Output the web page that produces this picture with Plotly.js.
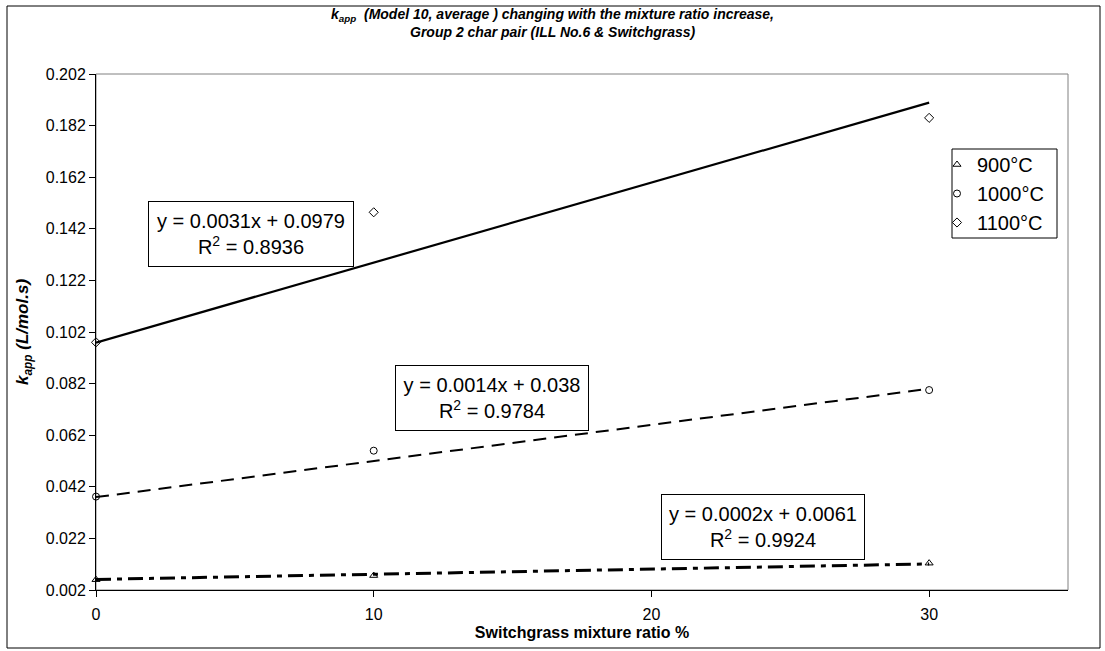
<!DOCTYPE html>
<html>
<head>
<meta charset="utf-8">
<script src="https://cdn.plot.ly/plotly-3.0.1.min.js"></script>
<style>html,body{margin:0;padding:0;background:#fff;}</style>
</head>
<body>
<div id="chart" style="width:1105px;height:651px;"></div>
<script>
// Data
const mixtureRatio = [0, 10, 30];
const k900 = [0.0060, 0.0076, 0.0124];
const k1000 = [0.0382, 0.0560, 0.0795];
const k1100 = [0.0980, 0.1484, 0.1850];
const seriesNames = ['900°C', '1000°C', '1100°C'];
const trendSlopes = [0.0002, 0.0014, 0.0031];
const trendIntercepts = [0.0061, 0.038, 0.0979];
const trendLabels = [
  'y = 0.0002x + 0.0061<br>R<sup>2</sup> = 0.9924',
  'y = 0.0014x + 0.038<br>R<sup>2</sup> = 0.9784',
  'y = 0.0031x + 0.0979<br>R<sup>2</sup> = 0.8936'
];
const titleLines = [
  '<b><i>k<sub>app</sub>  (Model 10, average ) changing with the mixture ratio increase,</i></b>',
  '<b><i>Group 2 char pair (ILL No.6 & Switchgrass)</i></b>'
];
const xTicks = [0, 10, 20, 30];
const yTicks = [0.002, 0.022, 0.042, 0.062, 0.082, 0.102, 0.122, 0.142, 0.162, 0.182, 0.202];

const FONT = 'Liberation Sans, Arial, sans-serif';
const symbols = ['triangle-up-open', 'circle-open', 'diamond-open'];
const dashes = ['15px,6px,5px,6px', '13px,8px', 'solid'];
const widths = [3, 2, 2.2];
const seriesData = [k900, k1000, k1100];

const traces = [];
for (let i = 0; i < 3; i++) {
  const xs = [mixtureRatio[0], mixtureRatio[mixtureRatio.length - 1]];
  traces.push({
    x: xs,
    y: xs.map(v => trendSlopes[i] * v + trendIntercepts[i]),
    mode: 'lines',
    line: {color: '#000', width: widths[i], dash: dashes[i]},
    showlegend: false,
    hoverinfo: 'skip'
  });
}
for (let i = 0; i < 3; i++) {
  traces.push({
    x: mixtureRatio,
    y: seriesData[i],
    name: seriesNames[i],
    mode: 'markers',
    marker: {symbol: symbols[i], size: 7, color: '#000', line: {color: '#000', width: 1}},
    cliponaxis: false
  });
}

const L = 96, R = 1068, T = 74, B = 590;
const px2x = px => (px - L) / (R - L);
const px2y = py => (B - py) / (B - T);

function eqBox(cx, cy, w, txt) {
  return {x: px2x(cx), y: px2y(cy), xref: 'paper', yref: 'paper', text: txt,
    xanchor: 'center', yanchor: 'middle',
    showarrow: false, bgcolor: '#fff', bordercolor: '#000', borderwidth: 1,
    width: w, height: 62, font: {family: FONT, size: 20, color: '#000'}, align: 'center'};
}

const layout = {
  width: 1105, height: 651,
  margin: {l: L, r: 1105 - R, t: T, b: 651 - B},
  paper_bgcolor: '#fff', plot_bgcolor: '#fff',
  font: {family: FONT, color: '#000', size: 16},
  showlegend: true,
  xaxis: {
    range: [0, 35], tickvals: xTicks, ticktext: xTicks.map(String),
    ticks: 'outside', ticklen: 6, tickcolor: '#000', tickwidth: 1,
    ticklabelstandoff: 4,
    showline: true, linecolor: '#000', linewidth: 1,
    showgrid: false, zeroline: false,
    tickfont: {family: FONT, size: 16, color: '#000'},
    title: {text: '<b>Switchgrass mixture ratio %</b>', font: {family: FONT, size: 16, color: '#000'}, standoff: 4}
  },
  yaxis: {
    range: [0.002, 0.202], tickvals: yTicks, ticktext: yTicks.map(v => v.toFixed(3)),
    ticks: 'outside', ticklen: 6, tickcolor: '#000', tickwidth: 1,
    showline: true, linecolor: '#000', linewidth: 1,
    showgrid: false, zeroline: false,
    tickfont: {family: FONT, size: 16, color: '#000'},
    title: {text: '<b><i>k<sub>app</sub> (L/mol.s)</i></b>', font: {family: FONT, size: 17, color: '#000'}, standoff: 12}
  },
  legend: {
    x: px2x(937), y: px2y(145), xanchor: 'left', yanchor: 'top',
    bgcolor: 'rgba(0,0,0,0)', borderwidth: 0,
    font: {family: FONT, size: 20, color: '#000'},
    itemwidth: 30, tracegroupgap: 0
  },
  shapes: [
    {type: 'rect', xref: 'paper', yref: 'paper', x0: 0, x1: 1, y0: 0, y1: 1,
     line: {color: '#808080', width: 1}, layer: 'below'},
    {type: 'rect', xref: 'paper', yref: 'paper',
     x0: px2x(7), x1: px2x(1100), y0: px2y(648), y1: px2y(6),
     line: {color: '#000', width: 1}, layer: 'below'},
    {type: 'rect', xref: 'paper', yref: 'paper',
     x0: px2x(952), x1: px2x(1057), y0: px2y(238), y1: px2y(149),
     line: {color: '#000', width: 1}, fillcolor: '#fff', layer: 'below'}
  ],
  annotations: [
    {x: px2x(552.5), y: px2y(5), xref: 'paper', yref: 'paper', text: titleLines[0],
     xanchor: 'center', yanchor: 'top', showarrow: false, borderpad: 0,
     font: {family: FONT, size: 14, color: '#000'}},
    {x: px2x(552.5), y: px2y(23), xref: 'paper', yref: 'paper', text: titleLines[1],
     xanchor: 'center', yanchor: 'top', showarrow: false, borderpad: 0,
     font: {family: FONT, size: 14, color: '#000'}},
    eqBox(763, 527, 200, trendLabels[0]),
    eqBox(492, 398, 190, trendLabels[1]),
    eqBox(251, 234, 202, trendLabels[2])
  ]
};

Plotly.newPlot('chart', traces, layout, {displayModeBar: false, staticPlot: true});
</script>
</body>
</html>
